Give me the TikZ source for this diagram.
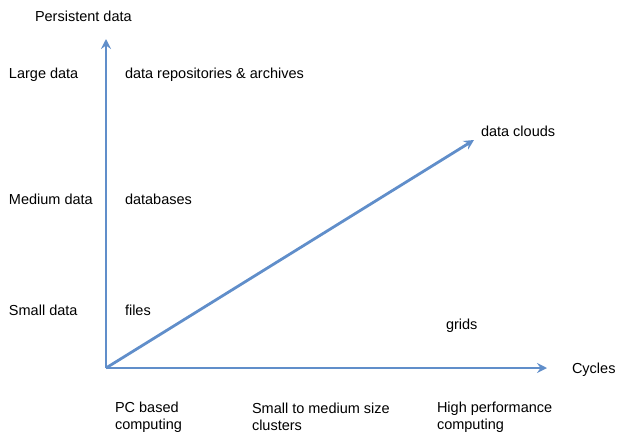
\documentclass[tikz,border=0pt]{standalone}
\usepackage{fontspec}
\setmainfont{Liberation Sans}
\usetikzlibrary{arrows.meta}
\definecolor{axisblue}{RGB}{96,142,202}
\tikzset{
  axis/.style={draw=axisblue, line width=2.8pt,
    -{Stealth[length=10pt, width=10pt, inset=3.5pt]}},
  lbl/.style={anchor=base west, inner sep=0pt, outer sep=0pt,
    font=\fontsize{14.5}{17}\selectfont}
}
\begin{document}
\begin{tikzpicture}[x=1pt, y=-1pt]
  \useasboundingbox (0,0) rectangle (618,431);

  % axes and growth line
  \coordinate (o) at (106,368);
  \coordinate (ytip) at (106,39);
  \coordinate (xtip) at (547,368);
  \coordinate (dtip) at (474,140);
  \draw[axis] (o) -- (ytip);
  \draw[axis] (o) -- (xtip);
  \draw[axis] (o) -- (dtip);

  % vertical axis
  \node[lbl] (ytitle) at (35,21) {Persistent data};
  \node[lbl] (large) at (9,78) {Large data};
  \node[lbl] (medium) at (9,204) {Medium data};
  \node[lbl] (small) at (9,315) {Small data};

  % storage kinds
  \node[lbl] (repos) at (125,78) {data repositories \& archives};
  \node[lbl] (dbs) at (125,204) {databases};
  \node[lbl] (files) at (125,315) {files};
  \node[lbl] (clouds) at (481,136) {data clouds};
  \node[lbl] (grids) at (446,329) {grids};

  % horizontal axis
  \node[lbl] (xtitle) at (572,373) {Cycles};
  \node[lbl] (pc1) at (115,412) {PC based};
  \node[lbl] (pc2) at (115,429) {computing};
  \node[lbl] (cl1) at (252,413) {Small to medium size};
  \node[lbl] (cl2) at (252,430) {clusters};
  \node[lbl] (hp1) at (437,412) {High performance};
  \node[lbl] (hp2) at (437,429) {computing};
\end{tikzpicture}
\end{document}
